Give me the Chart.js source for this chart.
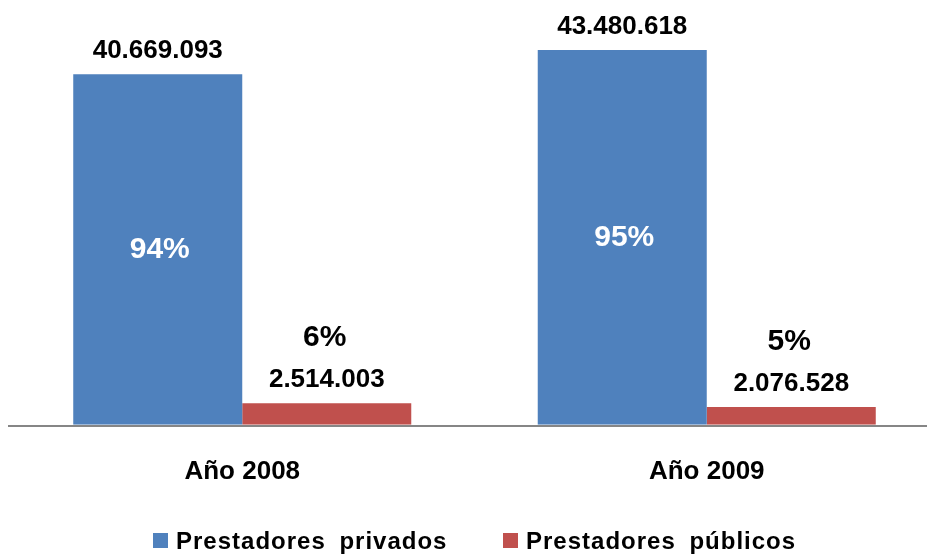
<!DOCTYPE html>
<html>
<head>
<meta charset="utf-8">
<script src="https://cdn.jsdelivr.net/npm/chart.js@4"></script>
<style>
  html, body { margin: 0; padding: 0; background: #ffffff; overflow: hidden; }
  #wrap { width: 940px; height: 557px; }
</style>
</head>
<body>
<div id="wrap"><canvas id="c" width="940" height="557"></canvas></div>
<script>
const categories = ['Año 2008', 'Año 2009'];
const seriesNames = ['Prestadores privados', 'Prestadores públicos'];
const privados = [40669093, 43480618];
const publicos = [2514003, 2076528];
const privadosPct = ['94%', '95%'];
const publicosPct = ['6%', '5%'];
const colors = ['#4F81BD', '#C0504D'];
const FONT = '"Liberation Sans", Arial, sans-serif';

function fmt(v) {
  return String(v).replace(/\B(?=(\d{3})+(?!\d))/g, '.');
}

const labelPlugin = {
  id: 'labels',
  afterDatasetsDraw(chart) {
    const ctx = chart.ctx;
    const area = chart.chartArea;
    ctx.save();
    // axis line
    ctx.fillStyle = '#868686';
    ctx.fillRect(8, Math.round(area.bottom), chart.width - 8, 2);

    ctx.textAlign = 'center';
    ctx.textBaseline = 'alphabetic';
    const pcts = [privadosPct, publicosPct];
    chart.data.datasets.forEach((ds, di) => {
      const meta = chart.getDatasetMeta(di);
      meta.data.forEach((bar, i) => {
        const x = bar.x;
        const top = bar.y;
        // value label
        ctx.fillStyle = '#000000';
        ctx.font = 'bold 26px ' + FONT;
        ctx.fillText(fmt(ds.data[i]), x, top - 16);
        // percent label
        ctx.font = 'bold 30px ' + FONT;
        if (di === 0) {
          ctx.fillStyle = '#ffffff';
          ctx.textBaseline = 'middle';
          ctx.fillText(pcts[di][i], x + 2, (top + bar.base) / 2);
          ctx.textBaseline = 'alphabetic';
        } else {
          ctx.fillStyle = '#000000';
          ctx.fillText(pcts[di][i], x - 2, top - 57);
        }
      });
    });

    // legend
    const legendX = [153, 503];
    ctx.textAlign = 'left';
    ctx.font = 'bold 24px ' + FONT;
    try { ctx.letterSpacing = '1px'; ctx.wordSpacing = '6px'; } catch (e) {}
    chart.data.datasets.forEach((ds, di) => {
      ctx.fillStyle = ds.backgroundColor;
      ctx.fillRect(legendX[di], 533, 15, 15);
      ctx.fillStyle = '#000000';
      ctx.fillText(ds.label, legendX[di] + 23, 549);
    });
    try { ctx.letterSpacing = '0px'; ctx.wordSpacing = '0px'; } catch (e) {}
    ctx.restore();
  }
};

new Chart(document.getElementById('c'), {
  type: 'bar',
  data: {
    labels: categories,
    datasets: [
      { label: seriesNames[0], data: privados, backgroundColor: colors[0], borderWidth: 0 },
      { label: seriesNames[1], data: publicos, backgroundColor: colors[1], borderWidth: 0 }
    ]
  },
  options: {
    responsive: false,
    animation: false,
    devicePixelRatio: 1,
    categoryPercentage: 0.7277,
    barPercentage: 1,
    layout: { padding: { top: 37, left: 10, right: 1, bottom: 39 } },
    plugins: { legend: { display: false }, tooltip: { enabled: false } },
    scales: {
      x: {
        grid: { display: false, drawTicks: false },
        border: { display: false },
        ticks: { color: '#000000', padding: 31, font: { family: FONT, size: 26, weight: 'bold' } }
      },
      y: {
        display: false,
        min: 0,
        max: 45000000
      }
    }
  },
  plugins: [labelPlugin]
});
</script>
</body>
</html>
